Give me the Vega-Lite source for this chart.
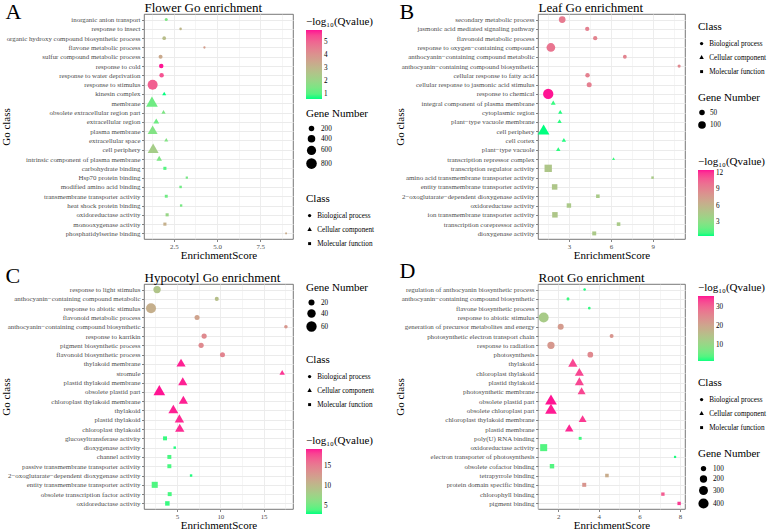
{
"$schema": "https://vega.github.io/schema/vega-lite/v6.json",
"background": "white",
"padding": {"left": 0, "top": 0, "right": 0, "bottom": 0},
"columns": 2,
"bounds": "flush",
"spacing": {"row": 45, "column": 245},
"resolve": {"scale": {"color": "independent", "size": "independent", "shape": "independent", "x": "independent", "y": "independent"}, "legend": {"color": "independent", "size": "independent", "shape": "independent"}},
"datasets": {
"flower": [
{"term":"inorganic anion transport","cls":"Biological process","score":2.06,"genes":42,"q":1.5},
{"term":"response to insect","cls":"Biological process","score":2.89,"genes":22,"q":3.0},
{"term":"organic hydroxy compound biosynthetic process","cls":"Biological process","score":1.94,"genes":77,"q":2.8},
{"term":"flavone metabolic process","cls":"Biological process","score":4.27,"genes":15,"q":3.7},
{"term":"sulfur compound metabolic process","cls":"Biological process","score":1.73,"genes":94,"q":3.4},
{"term":"response to cold","cls":"Biological process","score":1.77,"genes":125,"q":5.9},
{"term":"response to water deprivation","cls":"Biological process","score":1.79,"genes":125,"q":5.3},
{"term":"response to stimulus","cls":"Biological process","score":1.27,"genes":715,"q":5.1},
{"term":"kinesin complex","cls":"Cellular component","score":1.94,"genes":42,"q":0.62},
{"term":"membrane","cls":"Cellular component","score":1.23,"genes":536,"q":1.3},
{"term":"obsolete extracellular region part","cls":"Cellular component","score":1.9,"genes":51,"q":1.5},
{"term":"extracellular region","cls":"Cellular component","score":1.48,"genes":119,"q":1.3},
{"term":"plasma membrane","cls":"Cellular component","score":1.27,"genes":381,"q":1.6},
{"term":"extracellular space","cls":"Cellular component","score":2.06,"genes":42,"q":1.6},
{"term":"cell periphery","cls":"Cellular component","score":1.3,"genes":461,"q":2.3},
{"term":"intrinsic component of plasma membrane","cls":"Cellular component","score":1.65,"genes":100,"q":1.5},
{"term":"carbohydrate binding","cls":"Molecular function","score":1.98,"genes":66,"q":1.0},
{"term":"Hsp70 protein binding","cls":"Molecular function","score":3.25,"genes":22,"q":1.4},
{"term":"modified amino acid binding","cls":"Molecular function","score":2.89,"genes":33,"q":1.3},
{"term":"transmembrane transporter activity","cls":"Molecular function","score":2.06,"genes":56,"q":1.3},
{"term":"heat shock protein binding","cls":"Molecular function","score":2.92,"genes":29,"q":1.4},
{"term":"oxidoreductase activity","cls":"Molecular function","score":2.11,"genes":66,"q":2.0},
{"term":"monooxygenase activity","cls":"Molecular function","score":1.98,"genes":66,"q":3.2},
{"term":"phosphatidylserine binding","cls":"Molecular function","score":9.0,"genes":5,"q":3.3}
],
"leaf": [
{"term":"secondary metabolic process","cls":"Biological process","score":2.52,"genes":76,"q":9.5},
{"term":"jasmonic acid mediated signaling pathway","cls":"Biological process","score":4.31,"genes":28,"q":9.2},
{"term":"flavonoid metabolic process","cls":"Biological process","score":4.88,"genes":28,"q":9.0},
{"term":"response to oxygen−containing compound","cls":"Biological process","score":1.71,"genes":131,"q":9.8},
{"term":"anthocyanin−containing compound metabolic","cls":"Biological process","score":7.0,"genes":21,"q":9.0},
{"term":"anthocyanin−containing compound biosynthetic","cls":"Biological process","score":10.88,"genes":13,"q":8.8},
{"term":"cellular response to fatty acid","cls":"Biological process","score":4.33,"genes":31,"q":9.2},
{"term":"cellular response to jasmonic acid stimulus","cls":"Biological process","score":4.45,"genes":40,"q":9.3},
{"term":"response to chemical","cls":"Biological process","score":1.52,"genes":186,"q":12.55},
{"term":"integral component of plasma membrane","cls":"Cellular component","score":1.88,"genes":19,"q":0.8},
{"term":"cytoplasmic region","cls":"Cellular component","score":2.38,"genes":14,"q":0.6},
{"term":"plant−type vacuole membrane","cls":"Cellular component","score":2.33,"genes":14,"q":0.7},
{"term":"cell periphery","cls":"Cellular component","score":1.19,"genes":131,"q":0.45},
{"term":"cell cortex","cls":"Cellular component","score":2.64,"genes":14,"q":0.6},
{"term":"plant−type vacuole","cls":"Cellular component","score":2.24,"genes":15,"q":0.7},
{"term":"transcription repressor complex","cls":"Cellular component","score":6.19,"genes":4,"q":0.9},
{"term":"transcription regulator activity","cls":"Molecular function","score":1.52,"genes":119,"q":4.8},
{"term":"amino acid transmembrane transporter activity","cls":"Molecular function","score":8.98,"genes":9,"q":4.5},
{"term":"entity transmembrane transporter activity","cls":"Molecular function","score":1.98,"genes":64,"q":4.8},
{"term":"2−oxoglutarate−dependent dioxygenase activity","cls":"Molecular function","score":5.07,"genes":24,"q":4.5},
{"term":"oxidoreductase activity","cls":"Molecular function","score":3.0,"genes":40,"q":4.6},
{"term":"ion transmembrane transporter activity","cls":"Molecular function","score":2.0,"genes":64,"q":4.8},
{"term":"transcription corepressor activity","cls":"Molecular function","score":6.55,"genes":24,"q":4.5},
{"term":"dioxygenase activity","cls":"Molecular function","score":4.81,"genes":31,"q":4.6}
],
"hypocotyl": [
{"term":"response to light stimulus","cls":"Biological process","score":2.69,"genes":30,"q":9.0},
{"term":"anthocyanin−containing compound metabolic","cls":"Biological process","score":9.59,"genes":9,"q":9.5},
{"term":"response to abiotic stimulus","cls":"Biological process","score":1.99,"genes":56,"q":11.0},
{"term":"flavonoid metabolic process","cls":"Biological process","score":7.31,"genes":14,"q":12.0},
{"term":"anthocyanin−containing compound biosynthetic","cls":"Biological process","score":17.58,"genes":7,"q":13.0},
{"term":"response to karrikin","cls":"Biological process","score":8.13,"genes":15,"q":14.0},
{"term":"pigment biosynthetic process","cls":"Biological process","score":7.78,"genes":15,"q":14.0},
{"term":"flavonoid biosynthetic process","cls":"Biological process","score":10.25,"genes":14,"q":14.5},
{"term":"thylakoid membrane","cls":"Cellular component","score":5.46,"genes":26,"q":19.0},
{"term":"stromule","cls":"Cellular component","score":17.15,"genes":9,"q":18.5},
{"term":"plastid thylakoid membrane","cls":"Cellular component","score":5.66,"genes":26,"q":19.0},
{"term":"obsolete plastid part","cls":"Cellular component","score":2.95,"genes":42,"q":19.2},
{"term":"chloroplast thylakoid membrane","cls":"Cellular component","score":5.73,"genes":26,"q":19.0},
{"term":"thylakoid","cls":"Cellular component","score":4.57,"genes":30,"q":19.0},
{"term":"plastid thylakoid","cls":"Cellular component","score":5.27,"genes":27,"q":18.8},
{"term":"chloroplast thylakoid","cls":"Cellular component","score":5.31,"genes":27,"q":18.8},
{"term":"glucosyltransferase activity","cls":"Molecular function","score":3.61,"genes":11,"q":3.5},
{"term":"dioxygenase activity","cls":"Molecular function","score":4.73,"genes":4,"q":3.2},
{"term":"channel activity","cls":"Molecular function","score":4.11,"genes":11,"q":3.8},
{"term":"passive transmembrane transporter activity","cls":"Molecular function","score":4.11,"genes":11,"q":3.8},
{"term":"2−oxoglutarate−dependent dioxygenase activity","cls":"Molecular function","score":6.62,"genes":4,"q":3.2},
{"term":"entity transmembrane transporter activity","cls":"Molecular function","score":2.42,"genes":26,"q":4.0},
{"term":"obsolete transcription factor activity","cls":"Molecular function","score":4.15,"genes":11,"q":3.8},
{"term":"oxidoreductase activity","cls":"Molecular function","score":3.88,"genes":14,"q":3.5}
],
"rootgo": [
{"term":"regulation of anthocyanin biosynthetic process","cls":"Biological process","score":3.3,"genes":14,"q":2.0},
{"term":"anthocyanin−containing compound biosynthetic","cls":"Biological process","score":2.48,"genes":25,"q":3.0},
{"term":"flavone biosynthetic process","cls":"Biological process","score":3.53,"genes":18,"q":2.5},
{"term":"response to abiotic stimulus","cls":"Biological process","score":1.28,"genes":382,"q":13.0},
{"term":"generation of precursor metabolites and energy","cls":"Biological process","score":2.12,"genes":131,"q":22.0},
{"term":"photosynthetic electron transport chain","cls":"Biological process","score":4.63,"genes":52,"q":23.0},
{"term":"response to radiation","cls":"Biological process","score":1.64,"genes":199,"q":22.5},
{"term":"photosynthesis","cls":"Biological process","score":3.58,"genes":117,"q":25.0},
{"term":"thylakoid","cls":"Cellular component","score":2.72,"genes":176,"q":33.0},
{"term":"chloroplast thylakoid","cls":"Cellular component","score":3.04,"genes":166,"q":33.0},
{"term":"plastid thylakoid","cls":"Cellular component","score":3.04,"genes":166,"q":33.0},
{"term":"photosynthetic membrane","cls":"Cellular component","score":3.15,"genes":126,"q":33.0},
{"term":"obsolete plastid part","cls":"Cellular component","score":1.64,"genes":287,"q":35.7},
{"term":"obsolete chloroplast part","cls":"Cellular component","score":1.64,"genes":287,"q":35.5},
{"term":"chloroplast thylakoid membrane","cls":"Cellular component","score":3.2,"genes":126,"q":34.0},
{"term":"plastid membrane","cls":"Cellular component","score":2.54,"genes":145,"q":35.0},
{"term":"poly(U) RNA binding","cls":"Molecular function","score":3.08,"genes":32,"q":3.0},
{"term":"oxidoreductase activity","cls":"Molecular function","score":1.28,"genes":235,"q":4.0},
{"term":"electron transporter of photosynthesis","cls":"Molecular function","score":7.76,"genes":14,"q":2.0},
{"term":"obsolete cofactor binding","cls":"Molecular function","score":1.69,"genes":88,"q":4.0},
{"term":"tetrapyrrole binding","cls":"Molecular function","score":4.4,"genes":52,"q":19.0},
{"term":"protein domain specific binding","cls":"Molecular function","score":3.28,"genes":69,"q":23.0},
{"term":"chlorophyll binding","cls":"Molecular function","score":7.16,"genes":46,"q":31.0},
{"term":"pigment binding","cls":"Molecular function","score":7.96,"genes":46,"q":34.0}
]
},
"concat": [
{
"data": {"name": "flower"},
"width": 149, "height": 225,
"title": {"text": "A", "anchor": "start", "frame": "bounds", "fontSize": 22, "offset": -40, "dx": 5, "baseline": "alphabetic"},
"layer": [
{"mark": {"type": "point", "filled": true, "opacity": 1, "strokeWidth": 0},
"encoding": {
"x": {"field": "score", "type": "quantitative", "scale": {"domain": [0.77, 9.4], "nice": false, "zero": false},
 "axis": {"title": "EnrichmentScore", "values": [1.25, 2.5, 3.75, 5, 6.25, 7.5, 8.75], "format": ".1f", "labelExpr": "datum.value % 2.5 === 0 ? datum.label : ''", "tickOpacity": {"condition": {"test": "datum.value % 2.5 === 0", "value": 1}, "value": 0}, "gridWidth": {"condition": {"test": "datum.value % 2.5 === 0", "value": 0.9}, "value": 0.5}}},
"y": {"field": "term", "type": "nominal", "sort": null, "scale": {"padding": 0.6}, "axis": {"title": "Go class", "titleX": -134.5, "titleBaseline": "alphabetic", "grid": true}},
"color": {"field": "q", "type": "quantitative", "scale": {"domain": [0.62, 5.9], "range": ["#00FF7F", "#FF1493"], "interpolate": "lab"},
 "legend": {"title": "−log₁₀(Qvalue)", "orient": "none", "legendX": 162, "legendY": 2, "gradientLength": 69, "values": [1, 2, 3, 4, 5], "titlePadding": 3}},
"size": {"field": "genes", "type": "quantitative", "scale": {"domain": [5, 900], "range": [4, 125], "zero": false},
 "legend": {"title": "Gene Number", "orient": "none", "legendX": 162, "legendY": 94, "values": [200, 400, 600, 800], "rowPadding": 2.7, "titlePadding": 6, "symbolType": "circle", "symbolFillColor": "black", "symbolStrokeWidth": 0}},
"shape": {"field": "cls", "type": "nominal", "scale": {"domain": ["Biological process", "Cellular component", "Molecular function"], "range": ["circle", "M0,-1.555L1.347,0.778L-1.347,0.778Z", "M-0.886,-0.886L0.886,-0.886L0.886,0.886L-0.886,0.886Z"]},
 "legend": {"title": "Class", "orient": "none", "legendX": 162, "legendY": 179, "symbolSize": 11, "rowPadding": 6, "titlePadding": 8, "symbolFillColor": "black", "symbolStrokeWidth": 0}}
}},
{"mark": {"type": "point", "opacity": 0},
"encoding": {
"x": {"field": "score", "type": "quantitative", "scale": {"domain": [0.77, 9.4], "nice": false, "zero": false},
 "axis": {"orient": "top", "title": "Flower Go enrichment", "titleAnchor": "start", "titleFontSize": 13, "titlePadding": 3, "titleBaseline": "alphabetic", "labels": false, "ticks": false, "domain": false, "grid": false}}
}}
],
"resolve": {"axis": {"x": "independent"}}
},
{
"data": {"name": "leaf"},
"width": 147, "height": 225,
"title": {"text": "B", "anchor": "start", "frame": "bounds", "fontSize": 22, "offset": -40, "dx": 5, "baseline": "alphabetic"},
"layer": [
{"mark": {"type": "point", "filled": true, "opacity": 1, "strokeWidth": 0},
"encoding": {
"x": {"field": "score", "type": "quantitative", "scale": {"domain": [0.79, 11.3], "nice": false, "zero": false},
 "axis": {"title": "EnrichmentScore", "values": [1.5, 3, 4.5, 6, 7.5, 9, 10.5], "format": "d", "labelExpr": "datum.value % 3 === 0 ? datum.label : ''", "tickOpacity": {"condition": {"test": "datum.value % 3 === 0", "value": 1}, "value": 0}, "gridWidth": {"condition": {"test": "datum.value % 3 === 0", "value": 0.9}, "value": 0.5}}},
"y": {"field": "term", "type": "nominal", "sort": null, "scale": {"padding": 0.6}, "axis": {"title": "Go class", "titleX": -134.5, "titleBaseline": "alphabetic", "grid": true}},
"color": {"field": "q", "type": "quantitative", "scale": {"domain": [0.45, 12.55], "range": ["#00FF7F", "#FF1493"], "interpolate": "lab"},
 "legend": {"title": "−log₁₀(Qvalue)", "orient": "none", "legendX": 160, "legendY": 142, "gradientLength": 66, "values": [3, 6, 9, 12], "titlePadding": 3}},
"size": {"field": "genes", "type": "quantitative", "scale": {"domain": [2, 220], "range": [4, 125], "zero": false},
 "legend": {"title": "Gene Number", "orient": "none", "legendX": 160, "legendY": 78, "values": [50, 100], "rowPadding": 5, "titlePadding": 6, "symbolType": "circle", "symbolFillColor": "black", "symbolStrokeWidth": 0}},
"shape": {"field": "cls", "type": "nominal", "scale": {"domain": ["Biological process", "Cellular component", "Molecular function"], "range": ["circle", "M0,-1.555L1.347,0.778L-1.347,0.778Z", "M-0.886,-0.886L0.886,-0.886L0.886,0.886L-0.886,0.886Z"]},
 "legend": {"title": "Class", "orient": "none", "legendX": 160, "legendY": 7, "symbolSize": 11, "rowPadding": 6, "titlePadding": 8, "labelLimit": 62, "symbolFillColor": "black", "symbolStrokeWidth": 0}}
}},
{"mark": {"type": "point", "opacity": 0},
"encoding": {
"x": {"field": "score", "type": "quantitative", "scale": {"domain": [0.79, 11.3], "nice": false, "zero": false},
 "axis": {"orient": "top", "title": "Leaf Go enrichment", "titleAnchor": "start", "titleFontSize": 13, "titlePadding": 3, "titleBaseline": "alphabetic", "labels": false, "ticks": false, "domain": false, "grid": false}}
}}
],
"resolve": {"axis": {"x": "independent"}}
},
{
"data": {"name": "hypocotyl"},
"width": 149, "height": 225,
"title": {"text": "C", "anchor": "start", "frame": "bounds", "fontSize": 22, "offset": -34, "dx": 5, "baseline": "alphabetic"},
"layer": [
{"mark": {"type": "point", "filled": true, "opacity": 1, "strokeWidth": 0},
"encoding": {
"x": {"field": "score", "type": "quantitative", "scale": {"domain": [1.18, 18.4], "nice": false, "zero": false},
 "axis": {"title": "EnrichmentScore", "values": [2.5, 5, 7.5, 10, 12.5, 15, 17.5], "format": "d", "labelExpr": "datum.value % 5 === 0 ? datum.label : ''", "tickOpacity": {"condition": {"test": "datum.value % 5 === 0", "value": 1}, "value": 0}, "gridWidth": {"condition": {"test": "datum.value % 5 === 0", "value": 0.9}, "value": 0.5}}},
"y": {"field": "term", "type": "nominal", "sort": null, "scale": {"padding": 0.6}, "axis": {"title": "Go class", "titleX": -134.5, "titleBaseline": "alphabetic", "grid": true}},
"color": {"field": "q", "type": "quantitative", "scale": {"domain": [3, 19.2], "range": ["#00FF7F", "#FF1493"], "interpolate": "lab"},
 "legend": {"title": "−log₁₀(Qvalue)", "orient": "none", "legendX": 162, "legendY": 151, "gradientLength": 65, "values": [5, 10, 15], "titlePadding": 3}},
"size": {"field": "genes", "type": "quantitative", "scale": {"domain": [2, 70], "range": [4, 125], "zero": false},
 "legend": {"title": "Gene Number", "orient": "none", "legendX": 162, "legendY": -2, "values": [20, 40, 60], "rowPadding": 3, "titlePadding": 6, "symbolType": "circle", "symbolFillColor": "black", "symbolStrokeWidth": 0}},
"shape": {"field": "cls", "type": "nominal", "scale": {"domain": ["Biological process", "Cellular component", "Molecular function"], "range": ["circle", "M0,-1.555L1.347,0.778L-1.347,0.778Z", "M-0.886,-0.886L0.886,-0.886L0.886,0.886L-0.886,0.886Z"]},
 "legend": {"title": "Class", "orient": "none", "legendX": 162, "legendY": 70, "symbolSize": 11, "rowPadding": 6, "titlePadding": 8, "symbolFillColor": "black", "symbolStrokeWidth": 0}}
}},
{"mark": {"type": "point", "opacity": 0},
"encoding": {
"x": {"field": "score", "type": "quantitative", "scale": {"domain": [1.18, 18.4], "nice": false, "zero": false},
 "axis": {"orient": "top", "title": "Hypocotyl Go enrichment", "titleAnchor": "start", "titleFontSize": 13, "titlePadding": 3, "titleBaseline": "alphabetic", "labels": false, "ticks": false, "domain": false, "grid": false}}
}}
],
"resolve": {"axis": {"x": "independent"}}
},
{
"data": {"name": "rootgo"},
"width": 147, "height": 225,
"title": {"text": "D", "anchor": "start", "frame": "bounds", "fontSize": 22, "offset": -29, "dx": 5, "baseline": "alphabetic"},
"layer": [
{"mark": {"type": "point", "filled": true, "opacity": 1, "strokeWidth": 0},
"encoding": {
"x": {"field": "score", "type": "quantitative", "scale": {"domain": [1.0, 8.25], "nice": false, "zero": false},
 "axis": {"title": "EnrichmentScore", "values": [1, 2, 3, 4, 5, 6, 7, 8], "format": "d", "labelExpr": "datum.value % 2 === 0 ? datum.label : ''", "tickOpacity": {"condition": {"test": "datum.value % 2 === 0", "value": 1}, "value": 0}, "gridWidth": {"condition": {"test": "datum.value % 2 === 0", "value": 0.9}, "value": 0.5}}},
"y": {"field": "term", "type": "nominal", "sort": null, "scale": {"padding": 0.6}, "axis": {"title": "Go class", "titleX": -134.5, "titleBaseline": "alphabetic", "grid": true}},
"color": {"field": "q", "type": "quantitative", "scale": {"domain": [1.7, 35.7], "range": ["#00FF7F", "#FF1493"], "interpolate": "lab"},
 "legend": {"title": "−log₁₀(Qvalue)", "orient": "none", "legendX": 160, "legendY": -2, "gradientLength": 65, "values": [10, 20, 30], "titlePadding": 3}},
"size": {"field": "genes", "type": "quantitative", "scale": {"domain": [5, 480], "range": [4, 125], "zero": false},
 "legend": {"title": "Gene Number", "orient": "none", "legendX": 160, "legendY": 164, "values": [100, 200, 300, 400], "rowPadding": 3, "titlePadding": 6, "symbolType": "circle", "symbolFillColor": "black", "symbolStrokeWidth": 0}},
"shape": {"field": "cls", "type": "nominal", "scale": {"domain": ["Biological process", "Cellular component", "Molecular function"], "range": ["circle", "M0,-1.555L1.347,0.778L-1.347,0.778Z", "M-0.886,-0.886L0.886,-0.886L0.886,0.886L-0.886,0.886Z"]},
 "legend": {"title": "Class", "orient": "none", "legendX": 160, "legendY": 93, "symbolSize": 11, "rowPadding": 6, "titlePadding": 8, "labelLimit": 62, "symbolFillColor": "black", "symbolStrokeWidth": 0}}
}},
{"mark": {"type": "point", "opacity": 0},
"encoding": {
"x": {"field": "score", "type": "quantitative", "scale": {"domain": [1.0, 8.25], "nice": false, "zero": false},
 "axis": {"orient": "top", "title": "Root Go enrichment", "titleAnchor": "start", "titleFontSize": 13, "titlePadding": 3, "titleBaseline": "alphabetic", "labels": false, "ticks": false, "domain": false, "grid": false}}
}}
],
"resolve": {"axis": {"x": "independent"}}
}
],
"config": {
"font": "Liberation Serif",
"view": {"stroke": "#555555", "strokeWidth": 0.8},
"title": {"font": "Liberation Serif", "fontWeight": "normal", "color": "black"},
"axis": {"labelFont": "Liberation Serif", "titleFont": "Liberation Serif", "titleFontWeight": "normal", "titleColor": "black", "titleFontSize": 11, "labelColor": "#4D4D4D", "labelFontSize": 6.9, "tickColor": "#333333", "tickSize": 2.5, "tickWidth": 0.6, "domain": false, "gridColor": "#EBEBEB", "labelPadding": 1.5, "titlePadding": 1, "labelOverlap": false},
"legend": {"titleFont": "Liberation Serif", "labelFont": "Liberation Serif", "titleFontSize": 11, "titleFontWeight": "normal", "titleColor": "black", "labelFontSize": 7.2, "labelColor": "black", "gradientThickness": 16, "gradientStrokeWidth": 0, "padding": 0, "titleAnchor": "start"}
}
}
